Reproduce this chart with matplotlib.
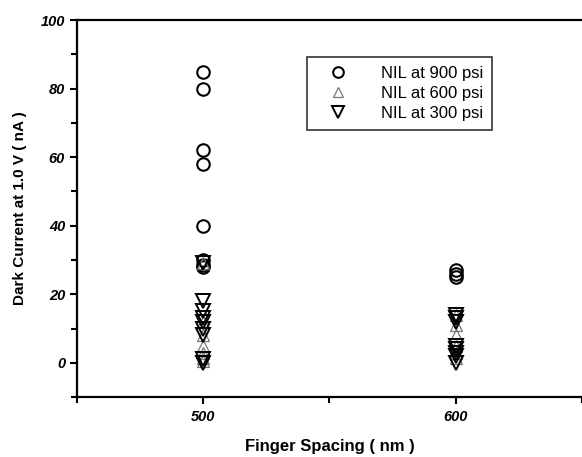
import matplotlib
matplotlib.use("Agg")
import matplotlib.pyplot as plt
from matplotlib.ticker import MultipleLocator

# Finger spacing (nm) and dark current (nA)
x_900 = [500, 500, 500, 500, 500, 500, 500, 500, 600, 600, 600]
y_900 = [85, 80, 62, 58, 40, 30, 28.5, 28, 27, 26, 25]

x_600 = [500, 500, 500, 500, 500, 500, 500, 600, 600, 600, 600, 600, 600]
y_600 = [29, 12, 8, 5, 3, 1.5, 0.5, 14, 11, 8, 5, 3, 1.5]

x_300 = [500, 500, 500, 500, 500, 500, 500, 500, 500, 600, 600, 600, 600, 600, 600, 600, 600]
y_300 = [29, 18, 15, 13, 12, 10, 8, 1, 0, 14, 13, 12, 5, 4, 3, 2, 0]

labels = ["NIL at 900 psi", "NIL at 600 psi", "NIL at 300 psi"]

plt.rcParams['font.family'] = ['Liberation Sans', 'DejaVu Sans']

fig = plt.figure(figsize=(5.82, 4.57), dpi=100)
ax = fig.add_axes([0.132, 0.131, 0.868, 0.825])

ax.plot(x_900, y_900, ls='none', marker='o', ms=9, mfc='none', mec='black', mew=1.5, label=labels[0])
ax.plot(x_600, y_600, ls='none', marker='^', ms=9, mfc='none', mec='#777777', mew=0.9, label=labels[1])
ax.plot(x_300, y_300, ls='none', marker='v', ms=10, mfc='none', mec='black', mew=1.4, label=labels[2])

ax.set_xlim(450, 650)
ax.set_ylim(-10, 100)
ax.set_xticks([500, 600])
ax.xaxis.set_minor_locator(MultipleLocator(50))
ax.yaxis.set_major_locator(MultipleLocator(20))
ax.yaxis.set_minor_locator(MultipleLocator(10))
ax.tick_params(which='both', direction='out', width=1.5)
ax.tick_params(which='major', length=5)
ax.tick_params(which='minor', length=4)
for lab in ax.get_xticklabels() + ax.get_yticklabels():
    lab.set_fontweight('bold')
    lab.set_fontstyle('italic')
    lab.set_fontsize(10.5)
ax.tick_params(axis='x', pad=4)

for s in ['left', 'bottom', 'top']:
    ax.spines[s].set_linewidth(1.6)
ax.spines['right'].set_visible(False)

ax.set_xlabel("Finger Spacing ( nm )", fontsize=12, fontweight='bold', labelpad=11)
ax.set_ylabel("Dark Current at 1.0 V ( nA )", fontsize=11, fontweight='bold', labelpad=10)

leg = ax.legend(loc='upper left', bbox_to_anchor=(0.455, 0.902), borderaxespad=0,
                frameon=True, fancybox=False, edgecolor='black', fontsize=12,
                markerscale=0.85, handlelength=2.6, handletextpad=1.3,
                borderpad=0.55, labelspacing=0.3)
leg.get_frame().set_linewidth(1.2)

plt.savefig("out.png", dpi=100)
